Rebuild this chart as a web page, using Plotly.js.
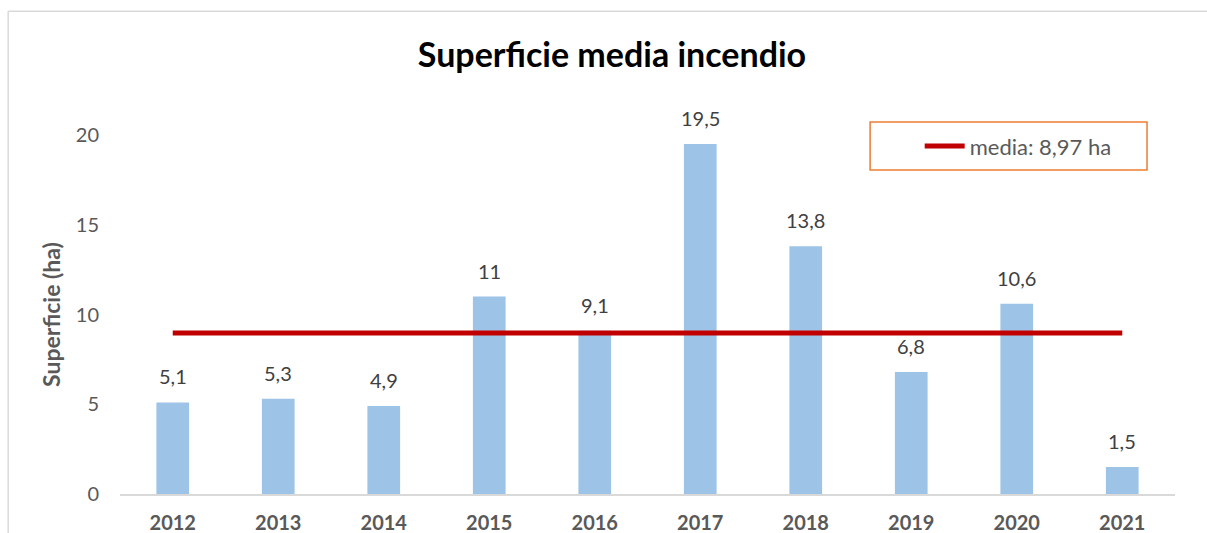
<!DOCTYPE html>
<html>
<head>
<meta charset="utf-8">
<script src="https://cdn.plot.ly/plotly-3.0.1.min.js"></script>
<style>html,body{margin:0;padding:0;background:#fff;overflow:hidden;}#chart{width:1207px;height:533px;}</style>
</head>
<body>
<div id="chart"></div>
<script>
const years = ["2012","2013","2014","2015","2016","2017","2018","2019","2020","2021"];
const superficie = [5.1, 5.3, 4.9, 11, 9.1, 19.5, 13.8, 6.8, 10.6, 1.5];
const superficieLabels = ["5,1","5,3","4,9","11","9,1","19,5","13,8","6,8","10,6","1,5"];
const mediaValue = 8.97;
const mediaLabel = "media: 8,97 ha";
const mediaLine = years.map(() => mediaValue);

const FONT = "Lato, 'Open Sans', sans-serif";

const traces = [
  {
    type: "bar",
    x: years,
    y: superficie,
    marker: {color: "#9dc3e6"},
    width: 0.31,
    showlegend: false,
    hoverinfo: "x+y"
  },
  {
    type: "scatter",
    mode: "lines",
    x: years,
    y: mediaLine,
    name: mediaLabel,
    line: {color: "#c00000", width: 5},
    showlegend: true
  }
];

const labelAnnotations = years.map((yr, i) => ({
  x: i, y: superficie[i], xref: "x", yref: "y",
  text: superficieLabels[i], showarrow: false,
  yanchor: "bottom", yshift: 12,
  font: {family: FONT, size: 20, color: "#404040"}
}));

const layout = {
  width: 1207,
  height: 533,
  margin: {l: 120, r: 32, t: 135, b: 39},
  paper_bgcolor: "#ffffff",
  plot_bgcolor: "#ffffff",
  title: {
    text: "<b>Superficie media incendio</b>",
    font: {family: FONT, size: 34, color: "#000000"},
    x: 0.507, xanchor: "center",
    y: 0.897, yanchor: "middle"
  },
  xaxis: {
    type: "category",
    range: [-0.5, 9.5],
    showgrid: false,
    showline: true,
    linecolor: "#d9d9d9",
    linewidth: 1.5,
    ticks: "",
    tickfont: {family: FONT, size: 20, color: "#595959", weight: "bold"},
    ticklabelstandoff: 10,
    zeroline: false
  },
  yaxis: {
    range: [0, 20],
    tickvals: [0, 5, 10, 15, 20],
    showgrid: false,
    showline: false,
    zeroline: false,
    ticks: "",
    ticklabelstandoff: 20,
    tickfont: {family: FONT, size: 20, color: "#595959"},
    title: {
      text: "<b>Superficie (ha)</b>",
      font: {family: FONT, size: 23, color: "#595959"},
      standoff: 8
    }
  },
  showlegend: true,
  legend: {
    x: 0.758, xanchor: "left",
    y: 0.969, yanchor: "middle",
    font: {family: FONT, size: 22, color: "#595959"},
    bgcolor: "rgba(0,0,0,0)",
    borderwidth: 0,
    itemwidth: 40
  },
  annotations: labelAnnotations,
  shapes: [
    {type: "line", xref: "paper", yref: "paper", x0: -0.106, x1: 1.05, y0: 1.345, y1: 1.345,
     line: {color: "#d9d9d9", width: 1.5}, layer: "below"},
    {type: "line", xref: "paper", yref: "paper", x0: -0.106, x1: -0.106, y0: -0.15, y1: 1.345,
     line: {color: "#d9d9d9", width: 1.5}, layer: "below"},
    {type: "rect", xref: "paper", yref: "paper", x0: 0.711, x1: 0.9735, y0: 0.9025, y1: 1.036,
     line: {color: "#ed7d31", width: 1.5}, fillcolor: "rgba(0,0,0,0)"}
  ]
};

Plotly.newPlot("chart", traces, layout, {displayModeBar: false, staticPlot: true});
</script>
</body>
</html>
